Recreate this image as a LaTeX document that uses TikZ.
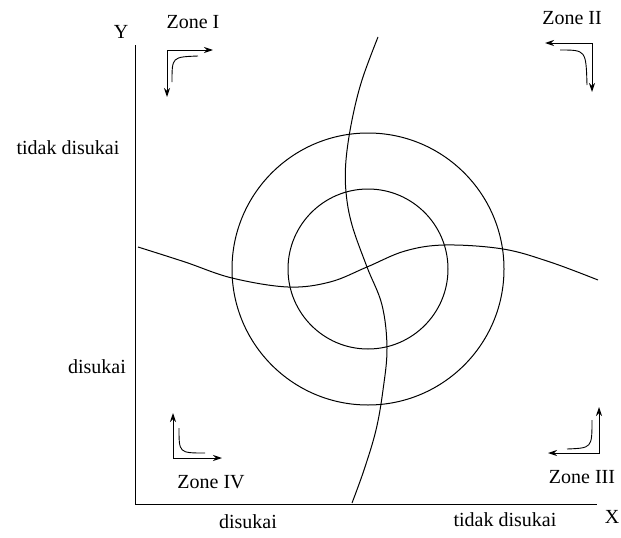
\documentclass[tikz,border=0pt]{standalone}
\usepackage{fontspec}
\setmainfont{Liberation Serif}
\usetikzlibrary{arrows.meta}
\begin{document}
\begin{tikzpicture}[x=1pt, y=-1pt, >={Stealth[length=9pt,width=6pt]},
    lbl/.style={font=\fontsize{20}{22}\selectfont, inner sep=0pt},
    crv/.style={line width=1pt},
    zarrow/.style={line width=1pt, <->}]
    \useasboundingbox (0,0) rectangle (621,538);
    \coordinate (O) at (135,504);
    \coordinate (X) at (597,504);
    \coordinate (Y) at (135,45);
    \coordinate (C) at (368,269);

    % axes
    \draw[crv] (Y) -- (O) -- (X);
    \node[lbl] (ylab) at (121,32) {Y};
    \node[lbl] (xlab) at (612,517) {X};

    % circles
    \draw[crv] (C) circle[radius=136pt];
    \draw[crv] (C) circle[radius=80pt];

    % indifference curves
    \draw[crv] plot[smooth, tension=0.6] coordinates {(378,37) (362,80) (352,120)
        (346,160) (346,192) (352,225) (367,267) (382,305) (387,348) (383,390)
        (376,430) (364,470) (352,503)};
    \draw[crv] plot[smooth, tension=0.6] coordinates {(138,247) (185,262) (232,278)
        (288,287) (330,282) (367,267) (405,251) (445,245) (503,249) (550,262)
        (598,280)};

    % zone arrows
    \draw[zarrow] (167,97) -- (167,50) -- (213,50);
    \draw[line width=0.9pt] (172,82) .. controls (172,57) .. (198,56);
    \draw[zarrow] (545,43) -- (592,43) -- (592,92);
    \draw[line width=0.9pt] (560,50) .. controls (586,50) .. (587,85);
    \draw[zarrow] (599,407) -- (599,453) -- (548,453);
    \draw[line width=0.9pt] (592,420) .. controls (592,448) .. (567,449);
    \draw[zarrow] (173,413) -- (173,458) -- (222,458);
    \draw[line width=0.9pt] (179,428) .. controls (179,453) .. (205,453);

    % labels
    \node[lbl] (z1) at (193,22) {Zone I};
    \node[lbl] (z2) at (572,18) {Zone II};
    \node[lbl] (z3) at (582,477) {Zone III};
    \node[lbl] (z4) at (211,482) {Zone IV};
    \node[lbl] (ytop) at (68,148) {tidak disukai};
    \node[lbl] (ybot) at (97,367) {disukai};
    \node[lbl] (xlft) at (248,522) {disukai};
    \node[lbl] (xrgt) at (505,520) {tidak disukai};
\end{tikzpicture}
\end{document}
